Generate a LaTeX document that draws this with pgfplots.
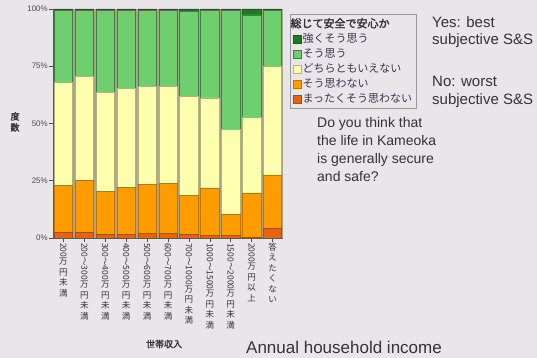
\documentclass[border=0pt]{standalone}
\usepackage{pgfplots}
\pgfplotsset{compat=1.18}
\usepackage{pgfplotstable}
\usepackage{graphicx}
\usepackage{fontspec}
\setmainfont{Liberation Sans}
\newfontfamily\jp{Noto Sans CJK JP}
\newfontfamily\jpb[FakeBold=2]{Noto Sans CJK JP}
\definecolor{cbg}{HTML}{E8E6E9}
\definecolor{cgap}{HTML}{A9A48F}
\definecolor{cdg}{HTML}{1E7B1E}
\definecolor{cg}{HTML}{6FCF6F}
\definecolor{cy}{HTML}{FFFFAE}
\definecolor{co}{HTML}{FF9C00}
\definecolor{cdo}{HTML}{E8640C}
\definecolor{ctxt}{HTML}{333333}
\definecolor{cleg}{HTML}{3A3450}
\newcommand{\tb}[1]{\rotatebox{-90}{#1}}
\pgfplotstableread{
x do o ye g dg
0 2.6 20.5 44.8 31.6 0.5
1 2.5 22.6 45.4 29.0 0.5
2 1.5 18.9 43.1 36.0 0.5
3 1.5 20.7 43.3 34.0 0.5
4 2.0 21.4 42.7 33.4 0.5
5 2.0 21.8 42.3 33.4 0.5
6 1.5 17.2 43.3 37.0 1.0
7 1.0 20.9 39.3 38.3 0.5
8 1.0 9.2 37.2 52.1 0.5
9 0.5 19.2 32.9 44.8 2.6
10 4.4 23.2 47.5 24.4 0.5
}\data
\begin{document}
\begin{tikzpicture}
\path[use as bounding box] (0,0) rectangle (537pt,358pt);
\fill[cbg] (0,0) rectangle (537pt,358pt);
\begin{axis}[
  scale only axis, width=230pt, height=229pt,
  at={(53pt,120pt)}, anchor=south west,
  ybar stacked, bar width=0.88,
  xmin=-0.5, xmax=10.5, ymin=0, ymax=100,
  axis lines*=left,
  axis line style={draw=gray!70!black, line width=0.6pt},
  axis background/.style={fill=cgap},
  xtick={0,...,10},
  xticklabels={
    {\tb{200}\\万\\円\\未\\満},
    {\tb{200～300}\\万\\円\\未\\満},
    {\tb{300～400}\\万\\円\\未\\満},
    {\tb{400～500}\\万\\円\\未\\満},
    {\tb{500～600}\\万\\円\\未\\満},
    {\tb{600～700}\\万\\円\\未\\満},
    {\tb{700～1000}\\万\\円\\未\\満},
    {\tb{1000～1500}\\万\\円\\未\\満},
    {\tb{1500～2000}\\万\\円\\未\\満},
    {\tb{2000}\\万\\円\\以\\上},
    {答\\え\\た\\く\\な\\い}},
  xticklabel style={font=\jp\fontsize{8.5}{10.5}\selectfont, align=center, anchor=north, inner sep=1pt, text=ctxt},
  ytick={0,25,50,75,100},
  yticklabels={0\%,25\%,50\%,75\%,100\%},
  yticklabel style={font=\fontsize{8}{9}\selectfont, text=black!70, inner sep=1pt},
  tick align=outside, major tick length=4pt,
  tick style={draw=gray!60!black, line width=0.6pt},
  ylabel={度\\数},
  ylabel style={rotate=-90, align=center, font=\jpb\fontsize{9}{11}\selectfont, text=ctxt, at={(axis description cs:-0.165,0.507)}, anchor=center},
  xlabel={世帯収入},
  xlabel style={font=\jpb\fontsize{9}{11}\selectfont, text=ctxt, at={(axis description cs:0.483,-0.463)}, anchor=center},
  reverse legend,
  legend style={at={(axis description cs:1.0304,0.978)}, anchor=north west,
    draw=gray!80, fill=cbg, font=\jp\fontsize{11}{13}\selectfont, text=cleg,
    row sep=2.6pt, inner sep=3pt, nodes={inner sep=1pt}},
  legend cell align=left,
  legend image code/.code={\draw[#1,line width=0.4pt] (0pt,-4pt) rectangle (8pt,4pt);},
]
\addplot[fill=cdo, draw=cdo!75!black, line width=0.5pt] table[x=x,y=do]{\data};
\addlegendentry{まったくそう思わない}
\addplot[fill=co, draw=co!75!black, line width=0.5pt] table[x=x,y=o]{\data};
\addlegendentry{そう思わない}
\addplot[fill=cy, draw=cy!70!black, line width=0.5pt] table[x=x,y=ye]{\data};
\addlegendentry{どちらともいえない}
\addplot[fill=cg, draw=cg!60!black, line width=0.5pt] table[x=x,y=g]{\data};
\addlegendentry{そう思う}
\addplot[fill=cdg, draw=cdg!75!black, line width=0.5pt] table[x=x,y=dg]{\data};
\addlegendentry{強くそう思う}
\addlegendimage{empty legend}
\addlegendentry{\hspace*{-12pt}\jpb\color{ctxt}総じて安全で安心か}
\end{axis}
\begin{scope}[every node/.style={inner sep=0pt, text=ctxt, anchor=base west}]
\node[font=\fontsize{15}{17}\selectfont] at (432pt,330pt) {Yes: best};
\node[font=\fontsize{15}{17}\selectfont] at (432pt,313pt) {subjective S\&S};
\node[font=\fontsize{15}{17}\selectfont] at (432pt,271pt) {No: worst};
\node[font=\fontsize{15}{17}\selectfont] at (432pt,253pt) {subjective S\&S};
\node[font=\fontsize{14}{17}\selectfont] at (317pt,230pt) {Do you think that};
\node[font=\fontsize{14}{17}\selectfont] at (317pt,212.3pt) {the life in Kameoka};
\node[font=\fontsize{14}{17}\selectfont] at (317pt,194.6pt) {is generally secure};
\node[font=\fontsize{14}{17}\selectfont] at (317pt,176.9pt) {and safe?};
\node[font=\fontsize{17}{20}\selectfont] at (246pt,5pt) {Annual household income};
\end{scope}
\end{tikzpicture}
\end{document}
